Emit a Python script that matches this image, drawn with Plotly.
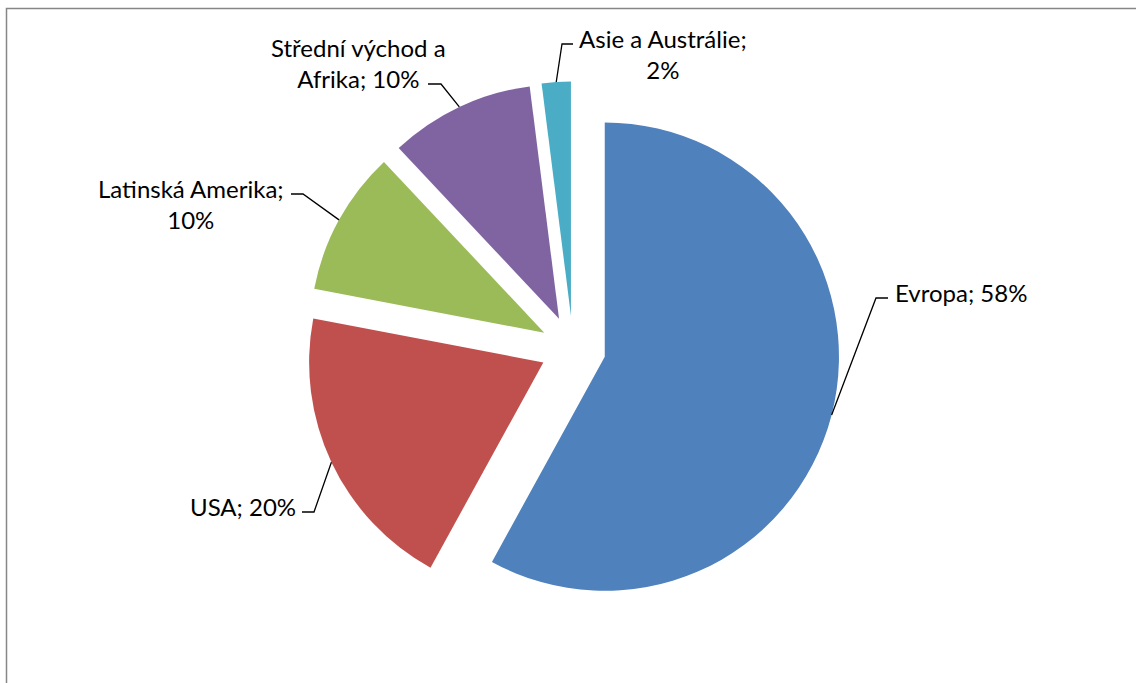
import math
import plotly.graph_objects as go

regions = ["Evropa", "USA", "Latinská Amerika", "Střední východ a Afrika", "Asie a Austrálie"]
label_text = ["Evropa; 58%", "USA; 20%", "Latinská Amerika;<br>10%", "Střední východ a<br>Afrika; 10%", "Asie a Austrálie;<br>2%"]
shares = [58, 20, 10, 10, 2]
colors = ["#4F81BD", "#C0504D", "#9BBB59", "#8064A2", "#4BACC6"]

W, H = 1136, 683
PULL = 0.14
# pie domain in pixels (left, right, top, bottom)
dom_px = (306, 840, 81.5, 615.5)

# label layout: text anchor (px), anchor side, knee of leader line (px), end of horizontal leader (px)
label_layout = [
    dict(x=893, y=292, xanchor="left", knee=(876, 298), end=(888, 298)),
    dict(x=298, y=506, xanchor="right", knee=(314, 512), end=(302, 512)),
    dict(x=191, y=204, xanchor="center", knee=(303, 194), end=(291, 194)),
    dict(x=358, y=63, xanchor="center", knee=(441, 84), end=(428, 84)),
    dict(x=663, y=54, xanchor="center", knee=(562, 44), end=(573, 44)),
]

FONT = dict(family="Lato, Open Sans, sans-serif", size=24, color="#000000")

fig = go.Figure(go.Pie(
    labels=regions,
    values=shares,
    textinfo="none",
    marker=dict(colors=colors, line=dict(width=0)),
    pull=[PULL] * len(shares),
    sort=False,
    direction="clockwise",
    rotation=0,
    automargin=False,
    showlegend=False,
    hoverinfo="label+percent",
    domain=dict(x=[dom_px[0] / W, dom_px[1] / W], y=[1 - dom_px[3] / H, 1 - dom_px[2] / H]),
))

# pie geometry as plotly computes it
bw, bh = dom_px[1] - dom_px[0], dom_px[3] - dom_px[2]
r = min(bw, bh) / (2 * (1 + PULL))
cx, cy = (dom_px[0] + dom_px[1]) / 2, (dom_px[2] + dom_px[3]) / 2
total = sum(shares)

def px2paper(x, y):
    return x / W, 1 - y / H

shapes = [dict(type="rect", xref="paper", yref="paper",
               x0=6.5 / W, x1=1.05, y0=-0.05, y1=1 - 8.5 / H,
               line=dict(color="#868686", width=1.5), fillcolor="rgba(0,0,0,0)")]
annotations = []
cum = 0
for val, txt, lay in zip(shares, label_text, label_layout):
    mid = (cum + val / 2) / total * 2 * math.pi
    cum += val
    dx, dy = math.sin(mid), -math.cos(mid)
    ex = cx + dx * r * (1 + PULL)
    ey = cy + dy * r * (1 + PULL)
    pts = [(ex, ey), lay["knee"], lay["end"]]
    ppts = [px2paper(*p) for p in pts]
    path = "M {} {} L {} {} L {} {}".format(*[c for p in ppts for c in p])
    shapes.append(dict(type="path", xref="paper", yref="paper", path=path,
                       line=dict(color="#000000", width=1.3)))
    ax, ay = px2paper(lay["x"], lay["y"])
    annotations.append(dict(xref="paper", yref="paper", x=ax, y=ay, text=txt,
                            showarrow=False, xanchor=lay["xanchor"], yanchor="middle",
                            align="center", font=FONT))

fig.update_layout(
    width=W, height=H,
    margin=dict(l=0, r=0, t=0, b=0),
    paper_bgcolor="white",
    plot_bgcolor="white",
    shapes=shapes,
    annotations=annotations,
)

fig.write_html("out.html")
